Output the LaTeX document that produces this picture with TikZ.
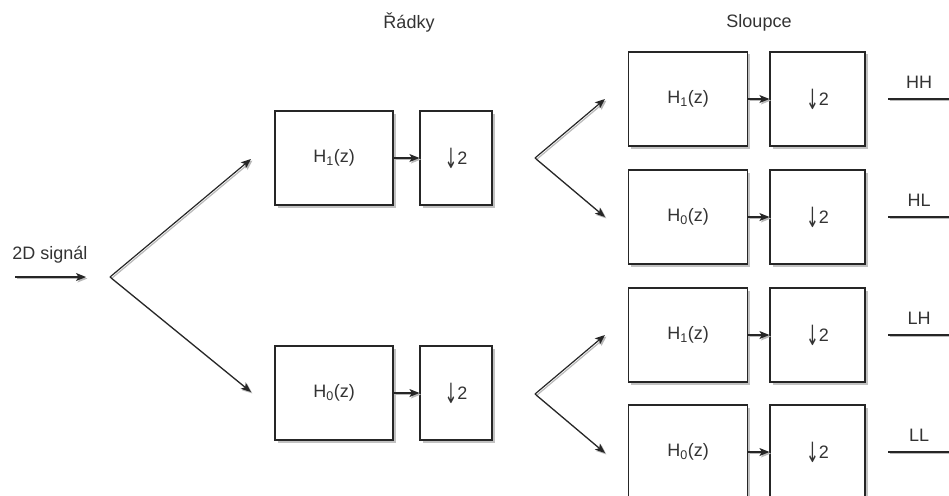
\documentclass[tikz,border=0pt]{standalone}
\usepackage{fontspec}
\usepackage{graphicx}
\setmainfont{Liberation Sans}
\newfontfamily\arrowfont{DejaVu Sans}
\usetikzlibrary{arrows.meta,shadows}

\newcommand{\downtwo}{\raisebox{-3.5pt}{\scalebox{0.85}[1.55]{\arrowfont ↓}}2}

\begin{document}
\begin{tikzpicture}[x=1pt,y=-1pt,
  every node/.style={font=\fontsize{18}{22}\selectfont, text=black!80},
  block/.style={draw=black!85, line width=1.2pt, fill=white, inner sep=0pt,
    minimum height=94pt,
    drop shadow={shadow xshift=2.5pt, shadow yshift=-2.5pt, fill=gray!80, opacity=0.6}},
  filterbox/.style={block, minimum width=118pt},
  downbox/.style={block, minimum width=95pt},
  rowdown/.style={block, minimum width=72pt},
  shline/.style={line width=1.2pt, draw=black!85,
    preaction={draw=gray!55, line width=1.2pt, transform canvas={shift={(1.5pt,-1.5pt)}}}},
  conn/.style={shline, -{Stealth[length=10pt,width=8pt,inset=2.5pt]}},
  label/.style={inner sep=1pt}
]
\useasboundingbox (0,0) rectangle (949,495);

% column headers
\node[label] (rowhead) at (409,23) {Řádky};
\node[label] (colhead) at (759,23) {Sloupce};

% input signal
\node[label] (inlabel) at (50,255) {2D signál};
\coordinate (in0) at (15,277);
\coordinate (in1) at (86,277);
\draw[conn] (in0) -- (in1);

% row stage
\node[filterbox] (h1r) at (334,158) {H\textsubscript{1}(z)};
\node[rowdown]   (d1r) at (456,158) {\downtwo};
\node[filterbox] (h0r) at (334,393) {H\textsubscript{0}(z)};
\node[rowdown]   (d0r) at (456,393) {\downtwo};
\draw[conn] (h1r.east) -- (d1r.west);
\draw[conn] (h0r.east) -- (d0r.west);

% split into rows
\coordinate (f1) at (110,277);
\coordinate (f1u) at (251,159);
\coordinate (f1d) at (251,392);
\draw[conn] (f1) -- (f1u);
\draw[conn] (f1) -- (f1d);

% column stage
\foreach \nm/\idx/\yy in {hh/1/99, hl/0/217, lh/1/335, ll/0/452}{
  \node[filterbox, minimum width=119pt] (f\nm) at (688,\yy) {H\textsubscript{\idx}(z)};
  \node[downbox] (d\nm) at (817.5,\yy) {\downtwo};
  \draw[conn] (f\nm.east) -- (d\nm.west);
}

% split into columns
\coordinate (f2) at (535,158);
\coordinate (f2u) at (605,99);
\coordinate (f2d) at (605,217);
\draw[conn] (f2) -- (f2u);
\draw[conn] (f2) -- (f2d);
\coordinate (f3) at (535,394);
\coordinate (f3u) at (605,335);
\coordinate (f3d) at (605,453);
\draw[conn] (f3) -- (f3u);
\draw[conn] (f3) -- (f3d);

% sub-band outputs
\foreach \nm/\txt/\yy in {hh/HH/99, hl/HL/217, lh/LH/335, ll/LL/452}{
  \coordinate (o\nm) at (888,\yy);
  \coordinate (e\nm) at (960,\yy);
  \draw[shline] (o\nm) -- (e\nm);
  \node[label] (t\nm) at (919,\yy-17) {\txt};
}
\end{tikzpicture}
\end{document}
